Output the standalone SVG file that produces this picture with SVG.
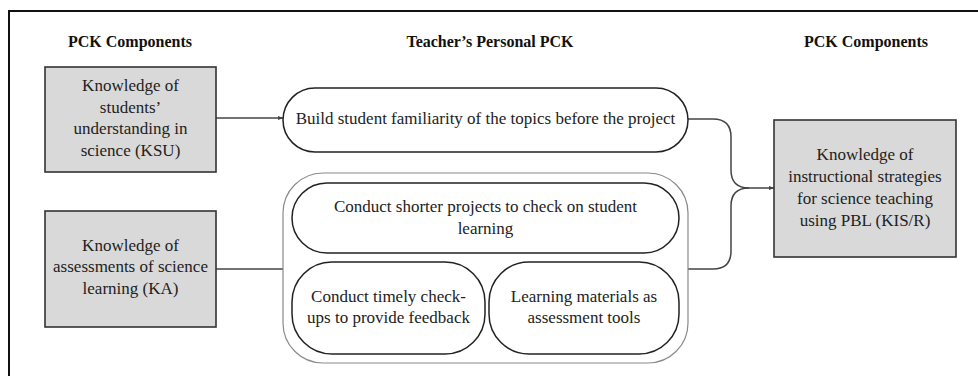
<svg xmlns="http://www.w3.org/2000/svg" width="978" height="376" viewBox="0 0 978 376">
  <style>
    .hdr { font-family: "Liberation Serif", "Times New Roman", serif; font-weight: bold; font-size: 16px; fill: #111; text-anchor: middle; }
    .txt { font-family: "Liberation Serif", "Times New Roman", serif; font-size: 17px; fill: #222; text-anchor: middle; }
    .box { fill: #d9d9d9; stroke: #333; stroke-width: 1.6; }
    .pill { fill: #fff; stroke: #222; stroke-width: 1.5; }
    .group { fill: #fff; stroke: #8a8a8a; stroke-width: 1.2; }
    .conn { fill: none; stroke: #444; stroke-width: 1.5; }
  </style>
  <defs>
    <marker id="tip" viewBox="0 0 6 6" refX="5.5" refY="3" markerWidth="4" markerHeight="4" orient="auto">
      <path d="M0,0.8 L6,3 L0,5.2 Z" fill="#444"/>
    </marker>
  </defs>

  <rect width="978" height="376" fill="#fff"/>

  <!-- frame -->
  <path d="M9,376 V11 H978" fill="none" stroke="#111" stroke-width="2"/>

  <!-- column headers -->
  <text class="hdr" x="130" y="47">PCK Components</text>
  <text class="hdr" x="490" y="47">Teacher’s Personal PCK</text>
  <text class="hdr" x="866" y="47">PCK Components</text>

  <!-- connectors -->
  <g id="connectors">
    <path class="conn" d="M216,118 H283" marker-end="url(#tip)"/>
    <path class="conn" d="M216,269 H292" marker-end="url(#tip)"/>
    <path class="conn" d="M688,119 H713 Q731,119 731,137 V170 Q731,188 749,188 H774" marker-end="url(#tip)"/>
    <path class="conn" d="M688,269 H713 Q731,269 731,251 V206 Q731,188 749,188"/>
  </g>

  <g id="ksu">
    <rect class="box" x="45" y="67" width="171" height="105"/>
    <text class="txt" x="130.5" y="91">Knowledge of</text>
    <text class="txt" x="130.5" y="112.5">students’</text>
    <text class="txt" x="130.5" y="134">understanding in</text>
    <text class="txt" x="130.5" y="155.5">science (KSU)</text>
  </g>

  <g id="ka">
    <rect class="box" x="45" y="211" width="171" height="116"/>
    <text class="txt" x="130.5" y="250.5">Knowledge of</text>
    <text class="txt" x="130.5" y="272">assessments of science</text>
    <text class="txt" x="130.5" y="293.5">learning (KA)</text>
  </g>

  <g id="build-familiarity">
    <rect class="pill" x="283" y="88" width="405" height="64" rx="32" ry="32"/>
    <text class="txt" x="485.5" y="124">Build student familiarity of the topics before the project</text>
  </g>

  <g id="assessment-group">
    <rect class="group" x="283" y="173" width="405" height="190" rx="40" ry="40"/>
  </g>

  <g id="shorter-projects">
    <rect class="pill" x="292" y="183" width="387" height="70" rx="35" ry="35"/>
    <text class="txt" x="485.5" y="212">Conduct shorter projects to check on student</text>
    <text class="txt" x="485.5" y="233.5">learning</text>
  </g>

  <g id="timely-checkups">
    <rect class="pill" x="292" y="262" width="193" height="92" rx="40" ry="40"/>
    <text class="txt" x="388.5" y="302">Conduct timely check-</text>
    <text class="txt" x="388.5" y="322.5">ups to provide feedback</text>
  </g>

  <g id="learning-materials">
    <rect class="pill" x="489" y="262" width="190" height="92" rx="40" ry="40"/>
    <text class="txt" x="584" y="302">Learning materials as</text>
    <text class="txt" x="584" y="322.5">assessment tools</text>
  </g>

  <g id="kisr">
    <rect class="box" x="774" y="120" width="182" height="137"/>
    <text class="txt" x="865" y="160">Knowledge of</text>
    <text class="txt" x="865" y="182">instructional strategies</text>
    <text class="txt" x="865" y="203.5">for science teaching</text>
    <text class="txt" x="865" y="225.5">using PBL (KIS/R)</text>
  </g>
</svg>
